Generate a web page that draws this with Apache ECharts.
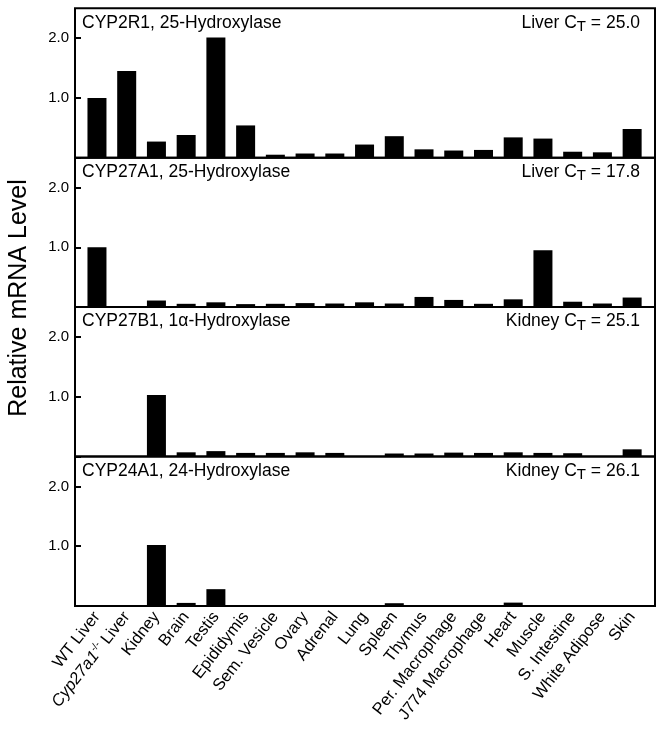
<!DOCTYPE html>
<html>
<head>
<meta charset="utf-8">
<script src="https://cdn.jsdelivr.net/npm/echarts@6/dist/echarts.min.js"></script>
<style>
html,body{margin:0;padding:0;background:#fff;}
#chart{width:664px;height:732px;}
</style>
</head>
<body>
<div id="chart"></div>
<script>
// ---- data ----
const categories = ['WT Liver','Cyp27a1-/- Liver','Kidney','Brain','Testis','Epididymis','Sem. Vesicle','Ovary','Adrenal','Lung','Spleen','Thymus','Per. Macrophage','J774 Macrophage','Heart','Muscle','S. Intestine','White Adipose','Skin'];
const cyp2r1  = [1.0, 1.45, 0.27, 0.38, 2.01, 0.54, 0.05, 0.07, 0.07, 0.22, 0.36, 0.14, 0.12, 0.13, 0.34, 0.32, 0.10, 0.09, 0.48];
const cyp27a1 = [1.0, 0,    0.11, 0.055,0.08, 0.05, 0.055,0.067,0.06, 0.08, 0.06, 0.17, 0.12, 0.055,0.13, 0.95, 0.09, 0.06, 0.16];
const cyp27b1 = [0,   0,    1.03, 0.07, 0.09, 0.06, 0.06, 0.07, 0.06, 0,    0.05, 0.05, 0.065,0.06, 0.07, 0.06, 0.055,0,    0.12];
const cyp24a1 = [0,   0,    1.02, 0.05, 0.28, 0,    0,    0,    0,    0,    0.045,0,    0,    0,    0.055,0,    0,    0,    0];
const panelNames = ['CYP2R1, 25-Hydroxylase','CYP27A1, 25-Hydroxylase','CYP27B1, 1\u03b1-Hydroxylase','CYP24A1, 24-Hydroxylase'];
const ctTissue = ['Liver','Liver','Kidney','Kidney'];
const ctValues = ['25.0','17.8','25.1','26.1'];
const yTickLabels = {1:'1.0', 2:'2.0'};
const yTitle = 'Relative mRNA Level';
const seriesData = [cyp2r1, cyp27a1, cyp27b1, cyp24a1];

// ---- layout ----
const FONT = "'Liberation Sans', Arial, Helvetica, sans-serif";
const frameLeft = 75, frameRight = 9;
const barLeft = 82.1, barWidthTotal = 564.9;
const panelTop0 = 8.3, panelH = 149.4;

const grids = [], xAxes = [], yAxes = [], series = [], titles = [];
for (let i = 0; i < 4; i++) {
  const top = panelTop0 + i * panelH;
  grids.push({left: frameLeft, right: frameRight, top: top, height: panelH, show: true,
    borderColor: '#000', borderWidth: 2, backgroundColor: 'transparent'});
  xAxes.push({gridIndex: grids.length - 1, type: 'value', show: false});
  yAxes.push({gridIndex: grids.length - 1, type: 'value', show: false});
}
for (let i = 0; i < 4; i++) {
  const top = panelTop0 + i * panelH;
  grids.push({left: barLeft, width: barWidthTotal, top: top, height: panelH});
  const gi = grids.length - 1;
  const isLast = i === 3;
  xAxes.push({gridIndex: gi, type: 'category', data: categories,
    axisLine: {show: false}, axisTick: {show: false},
    axisLabel: {show: isLast, rotate: 52, interval: 0, margin: 8, color: '#000',
      fontFamily: FONT, fontSize: 16.5,
      formatter: function (v) {
        if (v.indexOf('Cyp27a1') === 0) return '{it|Cyp27a1}{sup|-/-}{n| Liver}';
        return v;
      },
      rich: {
        it: {fontStyle: 'italic', fontFamily: FONT, fontSize: 16.5, color: '#000'},
        sup: {fontFamily: FONT, fontSize: 10, color: '#000', padding: [0, 0, 9, 0]},
        n: {fontFamily: FONT, fontSize: 16.5, color: '#000'}
      }}
  });
  yAxes.push({gridIndex: gi, type: 'value', min: 0, max: 2.5, interval: 1, offset: barLeft - frameLeft,
    axisLine: {show: false},
    axisTick: {show: true, inside: true, length: 6, lineStyle: {color: '#000', width: 2}},
    splitLine: {show: false},
    axisLabel: {margin: 6, color: '#000', fontFamily: FONT, fontSize: 15, showMaxLabel: false,
      formatter: function (v) { return yTickLabels[v] || ''; }}
  });
  series.push({type: 'bar', xAxisIndex: gi, yAxisIndex: gi, data: seriesData[i],
    barWidth: 19, itemStyle: {color: '#000'}, silent: true, animation: false});
  titles.push({text: panelNames[i], left: 77, top: top + 0.5,
    textStyle: {fontFamily: FONT, fontSize: 17.5, fontWeight: 'normal', color: '#000'}});
  titles.push({text: ctTissue[i] + ' C{sub|T} = ' + ctValues[i], right: 19, top: top - 2,
    textStyle: {fontFamily: FONT, fontSize: 17.5, fontWeight: 'normal', color: '#000',
      rich: {sub: {fontFamily: FONT, fontSize: 15, color: '#000', padding: [8, 0, 0, 0]}}}});
}

const chart = echarts.init(document.getElementById('chart'), null, {renderer: 'canvas'});
chart.setOption({
  animation: false,
  backgroundColor: '#fff',
  title: titles,
  grid: grids,
  xAxis: xAxes,
  yAxis: yAxes,
  series: series,
  graphic: [{type: 'text', x: 19, y: 298, rotation: Math.PI / 2,
    style: {text: yTitle, fontFamily: FONT, fontSize: 25, fill: '#000',
      textAlign: 'center', textVerticalAlign: 'middle'}}]
});
</script>
</body>
</html>
